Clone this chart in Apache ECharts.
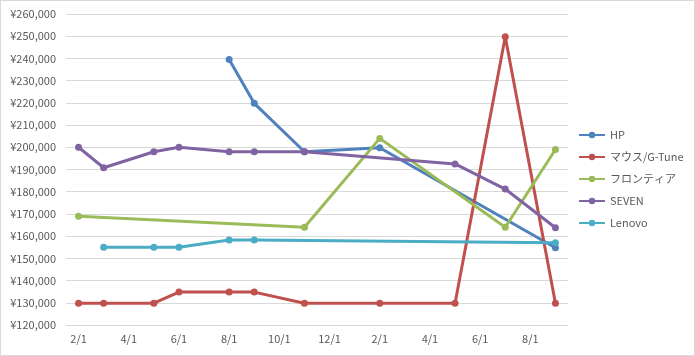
<!DOCTYPE html>
<html><head><meta charset="utf-8">
<script src="https://cdn.jsdelivr.net/npm/echarts@6/dist/echarts.min.js"></script>
<style>html,body{margin:0;padding:0;background:#fff}#c{width:695px;height:356px;box-sizing:border-box;border:1px solid #d9d9d9}</style>
</head><body><div id="c"></div>
<script>
// Months from Feb (year 1) to Sep (year 2)
const months = ['2/1','3/1','4/1','5/1','6/1','7/1','8/1','9/1','10/1','11/1','12/1','1/1','2/1','3/1','4/1','5/1','6/1','7/1','8/1','9/1'];
const seriesNames = ['HP','マウス/G-Tune','フロンティア','SEVEN','Lenovo'];
const hp      = [null,null,null,null,null,null,239500,219800,null,198000,null,null,199800,null,null,null,null,null,null,154800];
const mouse   = [129800,129800,null,129800,134800,null,134800,134800,null,129800,null,null,129800,null,null,129800,null,249800,null,129800];
const frontier= [169000,null,null,null,null,null,null,null,null,164000,null,null,204000,null,null,null,null,164000,null,199000];
const seven   = [200000,190800,null,198000,200000,null,198000,198000,null,198000,null,null,null,null,null,192500,null,181200,null,163800];
const lenovo  = [null,155000,null,155000,155000,null,158300,158300,null,null,null,null,null,null,null,null,null,null,null,157000];
const colors = ['#4f81bd','#c0504d','#9bbb59','#8064a2','#4bacc6'];
const values = [hp, mouse, frontier, seven, lenovo];

const chart = echarts.init(document.getElementById('c'));
const font = '"Noto Sans CJK JP", sans-serif';
chart.setOption({
  animation: false,
  color: colors,
  textStyle: {fontFamily: font},
  grid: {left: 65, right: 126, top: 13, bottom: 30},
  xAxis: {
    type: 'category', data: months, boundaryGap: true,
    axisLine: {lineStyle: {color: '#d9d9d9'}},
    axisTick: {interval: 1, length: 5, lineStyle: {color: '#d9d9d9'}},
    axisLabel: {interval: 1, color: '#595959', fontSize: 11, fontFamily: font, margin: 8}
  },
  yAxis: {
    type: 'value', min: 120000, max: 260000, interval: 10000,
    axisLine: {show: false}, axisTick: {show: false},
    splitLine: {lineStyle: {color: '#d9d9d9'}},
    axisLabel: {color: '#595959', fontSize: 11, fontFamily: font, margin: 10,
      formatter: v => '¥' + v.toLocaleString('en-US')}
  },
  legend: {
    orient: 'vertical', left: 572, top: 122, itemGap: 8, itemWidth: 26, itemHeight: 8,
    textStyle: {color: '#595959', fontSize: 11, fontFamily: font, lineHeight: 14},
    data: seriesNames
  },
  series: seriesNames.map((n, i) => ({
    name: n, type: 'line', data: values[i], connectNulls: true,
    symbol: 'circle', symbolSize: 7,
    lineStyle: {width: 3, color: colors[i]},
    itemStyle: {color: colors[i]}
  }))
});
</script></body></html>
